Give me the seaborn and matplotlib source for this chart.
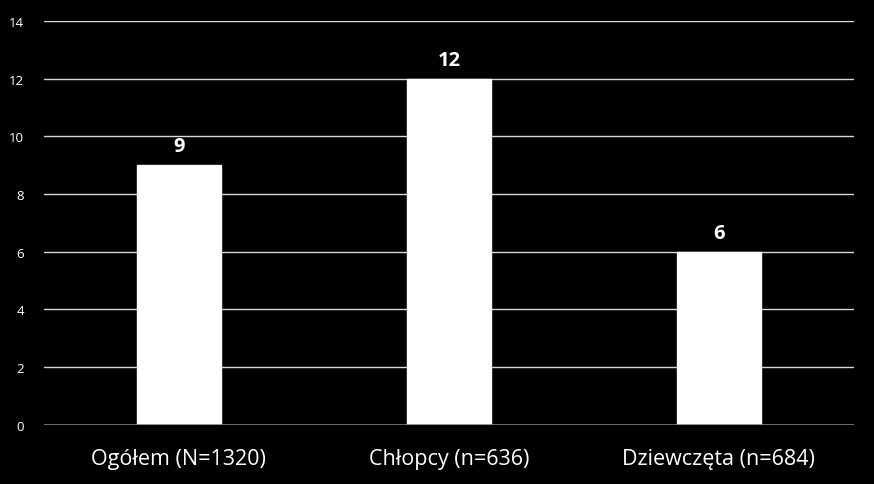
import matplotlib
matplotlib.use("Agg")
import matplotlib.pyplot as plt
import seaborn as sns
import pandas as pd

categories = ["Ogółem (N=1320)", "Chłopcy (n=636)", "Dziewczęta (n=684)"]
values = [9, 12, 6]
y_ticks = [0, 2, 4, 6, 8, 10, 12, 14]

sns.set_style("white")
plt.rcParams["font.family"] = ["Open Sans", "DejaVu Sans"]

df = pd.DataFrame({"group": categories, "value": values})

fig = plt.figure(figsize=(8.74, 4.85), dpi=100, facecolor="black")
ax = fig.add_axes([0.050, 0.122, 0.927, 0.833])
ax.set_facecolor("black")

for t in y_ticks[1:]:
    ax.axhline(t, color="#d9d9d9", linewidth=1, zorder=0)
ax.axhline(0, color="#808080", linewidth=1.2, zorder=3)

sns.barplot(data=df, x="group", y="value", color="white", width=0.31,
            saturation=1, ax=ax, zorder=2)

for i, v in enumerate(values):
    ax.text(i, v + 0.3, str(v), ha="center", va="bottom", color="white",
            fontsize=14.5, fontweight="bold")

ax.set_ylim(0, 14)
ax.set_xlim(-0.5, 2.5)
ax.set_yticks(y_ticks)
ax.set_yticklabels([str(t) for t in y_ticks], color="white", fontsize=9.5)
ax.tick_params(axis="x", colors="white", labelsize=15.5, length=0, pad=17)
ax.tick_params(axis="y", length=0, pad=14)
ax.set_xlabel("")
ax.set_ylabel("")
for s in ax.spines.values():
    s.set_visible(False)

fig.savefig("out.png", dpi=100, facecolor="black")
